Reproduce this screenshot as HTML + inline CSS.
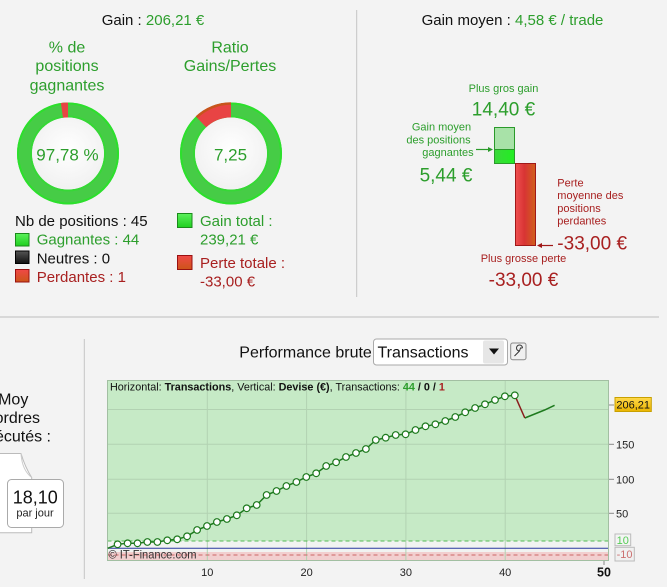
<!DOCTYPE html>
<html><head><meta charset="utf-8">
<style>
html,body{margin:0;padding:0;background:#f3f3f3;}
svg{display:block;font-family:"Liberation Sans",Arial,sans-serif;}
</style></head>
<body>
<svg width="667" height="587" viewBox="0 0 667 587" xmlns="http://www.w3.org/2000/svg">
<defs>
<linearGradient id="gsq" x1="0" y1="0" x2="0" y2="1"><stop offset="0" stop-color="#5cf05c"/><stop offset="1" stop-color="#1fcf1f"/></linearGradient>
<linearGradient id="bsq" x1="0" y1="0" x2="0" y2="1"><stop offset="0" stop-color="#555"/><stop offset="1" stop-color="#111"/></linearGradient>
<linearGradient id="rsq" x1="0" y1="0" x2="0" y2="1"><stop offset="0" stop-color="#f04848"/><stop offset="1" stop-color="#cc5518"/></linearGradient>
<linearGradient id="rbar" x1="0" y1="0" x2="1" y2="0"><stop offset="0" stop-color="#f05050"/><stop offset="0.45" stop-color="#d83434"/><stop offset="1" stop-color="#d0601c"/></linearGradient>
<linearGradient id="gbar" x1="0" y1="0" x2="1" y2="0"><stop offset="0" stop-color="#3ad83a"/><stop offset="1" stop-color="#22ee22"/></linearGradient>
<linearGradient id="ybox" x1="0" y1="0" x2="0" y2="1"><stop offset="0" stop-color="#ffd84a"/><stop offset="1" stop-color="#eab400"/></linearGradient>
<radialGradient id="wc" cx="0.5" cy="0.45" r="0.6"><stop offset="0" stop-color="#ffffff"/><stop offset="1" stop-color="#f0f0f0"/></radialGradient>
</defs>

<!-- separators -->
<line x1="356.7" y1="10" x2="356.7" y2="297" stroke="#c4c4c4" stroke-width="1"/>
<line x1="0" y1="317" x2="659" y2="317" stroke="#bdbdbd" stroke-width="1"/>
<line x1="84.3" y1="339" x2="84.3" y2="579" stroke="#c4c4c4" stroke-width="1"/>

<!-- Top left -->
<text x="153" y="25" font-size="15" text-anchor="middle" fill="#111">Gain : <tspan fill="#2c9e2c">206,21 €</tspan></text>
<g font-size="16" fill="#2c9e2c" text-anchor="middle">
<text x="67" y="52.5">% de</text>
<text x="67" y="71">positions</text>
<text x="67" y="90.5">gagnantes</text>
<text x="230" y="52.5">Ratio</text>
<text x="230" y="71">Gains/Pertes</text>
</g>

<!-- donut 1 -->
<g>
<circle cx="68" cy="153.5" r="43.5" fill="none" stroke="#46cc46" stroke-width="15"/>
<circle cx="68" cy="153.5" r="50" fill="none" stroke="#2ce02c" stroke-width="2"/>
<circle cx="68" cy="153.5" r="37" fill="none" stroke="#36d836" stroke-width="2"/>
<path d="M68,102.5 L68,117.5 A36,36 0 0 0 63,117.85 L60.9,103 A51,51 0 0 1 68,102.5 Z" fill="#e84444"/>
<circle cx="68" cy="153.5" r="36" fill="url(#wc)"/>
<text x="67.5" y="160.7" font-size="17" text-anchor="middle" fill="#2c9e2c">97,78 %</text>
</g>
<!-- donut 2 -->
<g>
<circle cx="231" cy="153.5" r="43.5" fill="none" stroke="#46cc46" stroke-width="15"/>
<circle cx="231" cy="153.5" r="50" fill="none" stroke="#2ce02c" stroke-width="2"/>
<circle cx="231" cy="153.5" r="37" fill="none" stroke="#36d836" stroke-width="2"/>
<path d="M231,102.5 L231,117.5 A36,36 0 0 0 206.2,127.4 L195.9,116.5 A51,51 0 0 1 231,102.5 Z" fill="#e84444"/>
<path d="M231,103.5 A50,50 0 0 0 196.6,117.2" fill="none" stroke="#c8541c" stroke-width="2.5"/>
<circle cx="231" cy="153.5" r="36" fill="url(#wc)"/>
<text x="230.5" y="160.7" font-size="17" text-anchor="middle" fill="#2c9e2c">7,25</text>
</g>

<!-- legend left -->
<text x="15" y="226" font-size="15" fill="#111">Nb de positions : 45</text>
<rect x="15.5" y="233.5" width="13.5" height="12.5" fill="url(#gsq)" stroke="#1a8a1a"/>
<text x="36.7" y="244.7" font-size="15" fill="#2c9e2c">Gagnantes : 44</text>
<rect x="15.5" y="251" width="13.5" height="12.5" fill="url(#bsq)" stroke="#000"/>
<text x="36.7" y="263.4" font-size="15" fill="#111">Neutres : 0</text>
<rect x="15.5" y="269.5" width="13.5" height="12.5" fill="url(#rsq)" stroke="#991010"/>
<text x="36.7" y="282" font-size="15" fill="#a82020">Perdantes : 1</text>

<rect x="177.5" y="213.5" width="14.5" height="14" fill="url(#gsq)" stroke="#1a8a1a"/>
<text x="200" y="226" font-size="15" fill="#2c9e2c">Gain total :</text>
<text x="200" y="244.7" font-size="15" fill="#2c9e2c">239,21 €</text>
<rect x="177.5" y="255.5" width="14.5" height="14" fill="url(#rsq)" stroke="#991010"/>
<text x="200" y="268" font-size="15" fill="#a82020">Perte totale :</text>
<text x="200" y="286.4" font-size="15" fill="#a82020">-33,00 €</text>

<!-- Top right -->
<text x="512.5" y="25" font-size="15" text-anchor="middle" fill="#111">Gain moyen : <tspan fill="#2c9e2c">4,58 € / trade</tspan></text>
<text x="503.5" y="92" font-size="11" text-anchor="middle" fill="#2c9e2c">Plus gros gain</text>
<text x="503.5" y="115.7" font-size="19" text-anchor="middle" fill="#2c9e2c">14,40 €</text>
<g font-size="11" fill="#2c9e2c" text-anchor="middle">
<text x="441.5" y="130.7">Gain moyen</text>
<text x="438.5" y="143.5">des positions</text>
<text x="448" y="156.2">gagnantes</text>
</g>
<text x="446" y="181.7" font-size="19" text-anchor="middle" fill="#2c9e2c">5,44 €</text>

<rect x="494.5" y="127.5" width="20" height="22" fill="#a8e2a8" stroke="#2a9a2a"/>
<rect x="494.5" y="149.5" width="20" height="14" fill="url(#gbar)" stroke="#2a9a2a"/>
<rect x="515.5" y="163.5" width="20" height="82" fill="url(#rbar)" stroke="#a01818"/>
<line x1="476" y1="149.5" x2="489" y2="149.5" stroke="#2a9a2a" stroke-width="1.2"/>
<polygon points="493,149.5 488,147 488,152" fill="#2a9a2a"/>
<line x1="553" y1="245.5" x2="541" y2="245.5" stroke="#a01818" stroke-width="1.2"/>
<polygon points="537,245.5 542,243 542,248" fill="#a01818"/>

<g font-size="11" fill="#a82020">
<text x="557.3" y="186.5">Perte</text>
<text x="557.3" y="199.2">moyenne des</text>
<text x="557.3" y="211.9">positions</text>
<text x="557.3" y="224.5">perdantes</text>
</g>
<text x="557.3" y="249.3" font-size="19" fill="#a82020">-33,00 €</text>
<text x="523.5" y="262" font-size="11" text-anchor="middle" fill="#a82020">Plus grosse perte</text>
<text x="523.5" y="286" font-size="19" text-anchor="middle" fill="#a82020">-33,00 €</text>

<!-- Bottom left -->
<g font-size="16" fill="#111" text-anchor="end">
<text x="28.3" y="404.3">Nb Moy</text>
<text x="40" y="423">d'ordres</text>
<text x="51" y="441.7">exécutés :</text>
</g>
<path d="M-2,453.5 L21,453.5 Q25,467 31.7,477.5 L31.7,532.7 L-2,532.7 Z" fill="#ffffff" stroke="#bbbbbb" stroke-width="1"/>
<path d="M21,453.5 Q22,470 31.7,477.5" fill="none" stroke="#cccccc" stroke-width="1"/>
<rect x="7.5" y="479.5" width="56" height="48" rx="4" fill="#ffffff" stroke="#aaaaaa"/>
<text x="35.3" y="503.3" font-size="18" text-anchor="middle" fill="#111">18,10</text>
<text x="35" y="516.7" font-size="11" text-anchor="middle" fill="#222">par jour</text>

<!-- Performance brute header -->
<text x="239.3" y="357.3" font-size="16" fill="#111">Performance brute</text>
<rect x="373.5" y="339" width="134" height="26" rx="3" fill="#ffffff" stroke="#aaaaaa"/>
<text x="377.5" y="357.5" font-size="16" fill="#111">Transactions</text>
<rect x="483" y="340.5" width="21" height="23" rx="2" fill="#e6e6e6"/>
<polygon points="489,348.5 499,348.5 494,354.5" fill="#111"/>
<rect x="510.7" y="343" width="15.3" height="16.7" rx="2" fill="#f0f0f0" stroke="#8a8a8a"/>
<path d="M514.5,356 L519.5,351 M519.5,351 A3,3 0 1 1 522.5,348 M519.5,351 L520.5,348 L522.5,348" fill="none" stroke="#333" stroke-width="1"/>

<!-- Chart -->
<rect x="107.5" y="380.5" width="501" height="160.5" fill="#c6eac6"/>
<rect x="107.5" y="541" width="501" height="11" fill="#f1f3f1"/>
<rect x="107.5" y="552" width="501" height="8.5" fill="#f2cfcf"/>
<g stroke="#b2d2b2" stroke-width="1">
<line x1="207.3" y1="380.5" x2="207.3" y2="560.5"/>
<line x1="306.6" y1="380.5" x2="306.6" y2="560.5"/>
<line x1="405.9" y1="380.5" x2="405.9" y2="560.5"/>
<line x1="505.2" y1="380.5" x2="505.2" y2="560.5"/>
<line x1="107.5" y1="409.5" x2="608.5" y2="409.5"/>
<line x1="107.5" y1="444.3" x2="608.5" y2="444.3"/>
<line x1="107.5" y1="479.3" x2="608.5" y2="479.3"/>
<line x1="107.5" y1="513.3" x2="608.5" y2="513.3"/>
</g>
<line x1="107.5" y1="541" x2="608.5" y2="541" stroke="#55bb55" stroke-width="1" stroke-dasharray="4,3"/>
<line x1="107.5" y1="555" x2="608.5" y2="555" stroke="#cc6666" stroke-width="1" stroke-dasharray="4,3"/>
<line x1="107.5" y1="548.3" x2="608.5" y2="548.3" stroke="#2a3aa0" stroke-width="1"/>
<rect x="107.5" y="380.5" width="501" height="180" fill="none" stroke="#a2bfa2" stroke-width="1"/>

<text x="110" y="390.3" font-size="10.8" fill="#111">Horizontal: <tspan font-weight="bold">Transactions</tspan>, Vertical: <tspan font-weight="bold">Devise (€)</tspan>, Transactions: <tspan font-weight="bold" fill="#2c9e2c">44</tspan><tspan font-weight="bold"> / 0 / </tspan><tspan font-weight="bold" fill="#a82020">1</tspan></text>

<polyline fill="none" stroke="#1e7a1e" stroke-width="1.5" points="107.7,548.3 117.6,544.3 127.6,543.3 137.5,543.3 147.4,542 157.4,542 167.3,540.3 177.2,539.3 187.1,536.3 197.1,530 207,526 216.9,522 226.9,519 236.8,515.3 246.7,508.3 256.7,505 266.6,495 276.5,491 286.4,486 296.4,482 306.3,477 316.2,473.3 326.2,466 336.1,462.3 346,457 356,453 365.9,449 375.8,440 385.7,437.7 395.7,435 405.6,434.3 415.5,430 425.5,426.3 435.4,424.3 445.3,421 455.3,417 465.2,412.3 475.1,408 485,404.3 495,400 504.9,396.3 514.8,395.3"/>
<polyline fill="none" stroke="#1e7a1e" stroke-width="1.5" points="524.8,418 534.7,414 544.6,410 554.6,405.3"/>
<line x1="514.8" y1="395.3" x2="524.8" y2="418" stroke="#8a1c1c" stroke-width="1.5"/>
<g fill="#ffffff" stroke="#1e7a1e" stroke-width="1.2">
<circle cx="117.6" cy="544.3" r="3.3"/><circle cx="127.6" cy="543.3" r="3.3"/><circle cx="137.5" cy="543.3" r="3.3"/><circle cx="147.4" cy="542" r="3.3"/><circle cx="157.4" cy="542" r="3.3"/><circle cx="167.3" cy="540.3" r="3.3"/><circle cx="177.2" cy="539.3" r="3.3"/><circle cx="187.1" cy="536.3" r="3.3"/><circle cx="197.1" cy="530" r="3.3"/><circle cx="207" cy="526" r="3.3"/><circle cx="216.9" cy="522" r="3.3"/><circle cx="226.9" cy="519" r="3.3"/><circle cx="236.8" cy="515.3" r="3.3"/><circle cx="246.7" cy="508.3" r="3.3"/><circle cx="256.7" cy="505" r="3.3"/><circle cx="266.6" cy="495" r="3.3"/><circle cx="276.5" cy="491" r="3.3"/><circle cx="286.4" cy="486" r="3.3"/><circle cx="296.4" cy="482" r="3.3"/><circle cx="306.3" cy="477" r="3.3"/><circle cx="316.2" cy="473.3" r="3.3"/><circle cx="326.2" cy="466" r="3.3"/><circle cx="336.1" cy="462.3" r="3.3"/><circle cx="346" cy="457" r="3.3"/><circle cx="356" cy="453" r="3.3"/><circle cx="365.9" cy="449" r="3.3"/><circle cx="375.8" cy="440" r="3.3"/><circle cx="385.7" cy="437.7" r="3.3"/><circle cx="395.7" cy="435" r="3.3"/><circle cx="405.6" cy="434.3" r="3.3"/><circle cx="415.5" cy="430" r="3.3"/><circle cx="425.5" cy="426.3" r="3.3"/><circle cx="435.4" cy="424.3" r="3.3"/><circle cx="445.3" cy="421" r="3.3"/><circle cx="455.3" cy="417" r="3.3"/><circle cx="465.2" cy="412.3" r="3.3"/><circle cx="475.1" cy="408" r="3.3"/><circle cx="485" cy="404.3" r="3.3"/><circle cx="495" cy="400" r="3.3"/><circle cx="504.9" cy="396.3" r="3.3"/><circle cx="514.8" cy="395.3" r="3.3"/>
</g>

<text x="108.5" y="558.5" font-size="12" fill="#333" textLength="88" lengthAdjust="spacingAndGlyphs">© IT-Finance.com</text>

<!-- right axis -->
<g stroke="#888" stroke-width="1">
<line x1="609" y1="405" x2="614" y2="405"/>
<line x1="609" y1="444.3" x2="614" y2="444.3"/>
<line x1="609" y1="479.3" x2="614" y2="479.3"/>
<line x1="609" y1="513.3" x2="614" y2="513.3"/>
<line x1="604" y1="561" x2="604" y2="565"/>
</g>
<g font-size="11" fill="#222">
<text x="616" y="448.3">150</text>
<text x="616" y="483.3">100</text>
<text x="616" y="517.3">50</text>
</g>
<rect x="615" y="397.5" width="36.3" height="14" fill="url(#ybox)" stroke="#c8a000"/>
<text x="633.2" y="408.5" font-size="11" text-anchor="middle" fill="#111">206,21</text>
<rect x="615" y="534" width="15.7" height="11.7" fill="#f4f4f4" stroke="#bbbbbb"/>
<text x="622.8" y="543.8" font-size="11" text-anchor="middle" fill="#55cc55">10</text>
<rect x="615" y="547.3" width="19.3" height="13.7" fill="#f0f0f0" stroke="#bbbbbb"/>
<text x="624.6" y="558" font-size="11" text-anchor="middle" fill="#cc7070">-10</text>

<!-- x axis -->
<g font-size="11" fill="#222" text-anchor="middle">
<text x="207.3" y="576">10</text>
<text x="306.6" y="576">20</text>
<text x="405.9" y="576">30</text>
<text x="505.2" y="576">40</text>
</g>
<text x="604" y="576.7" font-size="12.5" font-weight="bold" text-anchor="middle" fill="#111">50</text>
</svg>
</body></html>
